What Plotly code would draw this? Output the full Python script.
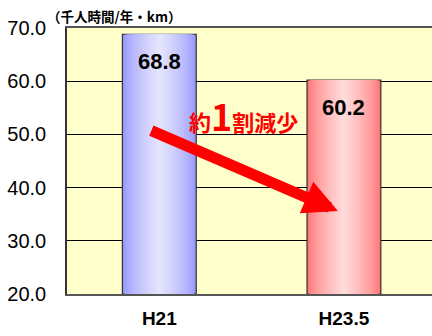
import plotly.graph_objects as go

categories = ["H21", "H23.5"]
values = [68.8, 60.2]
value_labels = ["68.8", "60.2"]
y_ticks = [20, 30, 40, 50, 60, 70]
unit_label = "（千人時間/年・km）"
note_text = "約<span style='font-size:36px'>1</span>割減少"

edge_colors = [(150, 150, 255), (255, 115, 115)]
center_colors = [(228, 228, 252), (255, 218, 218)]

FONT = "Arial, 'Liberation Sans', 'Noto Sans CJK JP', sans-serif"
JP = "'Noto Sans CJK JP', Arial, sans-serif"

fig = go.Figure()
N = 18
BW = 0.4
for i in range(N):
    t = i / (N - 1)
    f = t ** 0.7
    cols = []
    for e, c in zip(edge_colors, center_colors):
        rgb = tuple(int(round(e[k] + (c[k] - e[k]) * f)) for k in range(3))
        cols.append("rgb(%d,%d,%d)" % rgb)
    w = BW * (1 - i / N)
    fig.add_trace(go.Bar(
        x=categories, y=[v - 20 for v in values], base=20,
        width=[w, w],
        marker=dict(color=cols,
                    line=dict(color="#333333", width=1.2 if i == 0 else 0)),
        hoverinfo="skip", showlegend=False,
    ))

for c, v, lab in zip(categories, values, value_labels):
    fig.add_annotation(x=c, y=v, text="<b>%s</b>" % lab, showarrow=False,
                       yanchor="top", yshift=-13,
                       font=dict(family=FONT, size=22, color="black"))

fig.add_annotation(xref="paper", yref="paper", x=-0.06, y=1, xanchor="left",
                   yanchor="bottom", yshift=0, text="<b>%s</b>" % unit_label,
                   showarrow=False, font=dict(family=JP, size=13.5, color="black"))

fig.add_annotation(x=0.5, y=53.6, text="<b>%s</b>" % note_text, showarrow=False,
                   xanchor="center", yanchor="middle", xshift=-8,
                   font=dict(family=JP, size=22, color="#ff0000"))

fig.add_annotation(x=0.967, y=35.6, ax=-188, ay=-81, text="", showarrow=True,
                   arrowhead=2, arrowsize=0.62, arrowwidth=11,
                   arrowcolor="#ff0000")

fig.update_layout(
    width=432, height=336,
    margin=dict(l=67, r=0, t=28, b=42),
    paper_bgcolor="white", plot_bgcolor="#ffffcc",
    barmode="overlay",
    xaxis=dict(range=[-0.5, 1.477], showgrid=False, showline=True,
               linecolor="#555555", linewidth=2, mirror=True,
               ticks="", tickfont=dict(family=FONT, size=19, color="black"),
               ticktext=["<b>%s</b>" % c for c in categories],
               tickvals=categories, ticklabelstandoff=6),
    yaxis=dict(range=[20, 70], tickvals=y_ticks, tickformat=".1f",
               showgrid=True, gridcolor="black", gridwidth=1,
               showline=True, linecolor="#333333", linewidth=1.5,
               ticks="", zeroline=False,
               tickfont=dict(family=FONT, size=20, color="black"),
               ticklabelstandoff=15),
)

fig.write_html("out.html")
